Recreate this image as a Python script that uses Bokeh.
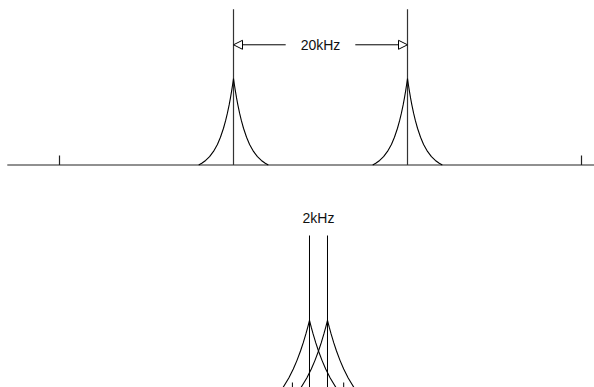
from bokeh.plotting import figure
from bokeh.layouts import column
from bokeh.models import Arrow, NormalHead, Range1d
from bokeh.core.properties import value
from bokeh.embed import file_html
from bokeh.resources import INLINE

# ---------------- data ----------------
# top spectrum (kHz)
top_peaks = [20, 40]            # carrier positions
top_ticks = [0, 60]             # axis ticks
top_axis = [-6, 62]             # baseline extent
top_peak_height = 1.0           # lineshape apex
top_marker_top = 1.8            # vertical marker height
top_halfwidth = 4.0             # lineshape half width (kHz)
tick_height = 0.11
spacing_label = "20kHz"
arrow_y = 1.39
arrow_gap = [26, 34]            # arrow shafts stop around the label

# bottom (close carriers)
bottom_peaks = [20, 22]
bottom_ticks = [18.1, 23.8]
bottom_peak_height = 1.0
bottom_marker_top = 1.85
bottom_halfwidth = 8.0
bottom_label = "2kHz"
bottom_label_y = 2.03
bottom_tick_top = 0.38

# normalised lineshape (offset fraction, height fraction)
profile_u = [0.0, 0.025, 0.05, 0.0875, 0.125, 0.175, 0.225, 0.2875, 0.375,
             0.4625, 0.575, 0.6875, 0.8, 0.9125, 1.0]
profile_f = [1.0, 0.931, 0.866, 0.776, 0.695, 0.599, 0.515, 0.425, 0.321,
             0.238, 0.157, 0.097, 0.053, 0.020, 0.0]

FONT = value("Liberation Sans")


def make_fig(h, xr, yr):
    p = figure(width=594, height=h, x_range=Range1d(*xr), y_range=Range1d(*yr),
               output_backend="svg", toolbar_location=None, min_border=0,
               x_axis_location=None, y_axis_location=None)
    p.grid.visible = False
    p.outline_line_color = None
    p.background_fill_color = "white"
    p.border_fill_color = "white"
    return p


def lineshape(p, f0, halfwidth, height):
    left_x = [f0 - u * halfwidth for u in reversed(profile_u)]
    left_y = [height * f for f in reversed(profile_f)]
    right_x = [f0 + u * halfwidth for u in profile_u]
    right_y = [height * f for f in profile_f]
    p.line(left_x + right_x[1:], left_y + right_y[1:], line_color="black", line_width=1.1)


# ---------------- top panel ----------------
top = make_fig(180, (-6.782, 61.494), (-0.179, 1.902))
top.line(top_axis, [0, 0], line_color="#222222", line_width=1.2)
top.segment(x0=top_ticks, y0=[0] * len(top_ticks), x1=top_ticks, y1=[tick_height] * len(top_ticks),
            line_color="#222222", line_width=1.2)
top.segment(x0=top_peaks, y0=[0] * len(top_peaks), x1=top_peaks, y1=[top_marker_top] * len(top_peaks),
            line_color="#333333", line_width=1.2)
for f0 in top_peaks:
    lineshape(top, f0, top_halfwidth, top_peak_height)

top.add_layout(Arrow(end=NormalHead(size=9, fill_color="white", line_color="black", line_width=1),
                     x_start=arrow_gap[0], y_start=arrow_y, x_end=top_peaks[0], y_end=arrow_y,
                     line_color="black", line_width=1))
top.add_layout(Arrow(end=NormalHead(size=9, fill_color="white", line_color="black", line_width=1),
                     x_start=arrow_gap[1], y_start=arrow_y, x_end=top_peaks[1], y_end=arrow_y,
                     line_color="black", line_width=1))
top.text(x=[(top_peaks[0] + top_peaks[1]) / 2], y=[arrow_y], text=[spacing_label],
         text_font=FONT, text_font_size="14px", text_align="center", text_baseline="middle",
         text_color="#111111")

# ---------------- bottom panel ----------------
bottom = make_fig(207, (-14.333, 51.667), (0.33, 2.40))
bottom.segment(x0=bottom_peaks, y0=[0] * len(bottom_peaks), x1=bottom_peaks,
               y1=[bottom_marker_top] * len(bottom_peaks), line_color="black", line_width=1)
for f0 in bottom_peaks:
    lineshape(bottom, f0, bottom_halfwidth, bottom_peak_height)
bottom.segment(x0=bottom_ticks, y0=[0] * len(bottom_ticks), x1=bottom_ticks,
               y1=[bottom_tick_top] * len(bottom_ticks), line_color="black", line_width=1)
bottom.text(x=[(bottom_peaks[0] + bottom_peaks[1]) / 2], y=[bottom_label_y], text=[bottom_label],
            text_font=FONT, text_font_size="14px", text_align="center", text_baseline="middle",
            text_color="#111111")

layout = column(top, bottom, spacing=0)
open("out.html", "w").write(file_html(layout, INLINE))
